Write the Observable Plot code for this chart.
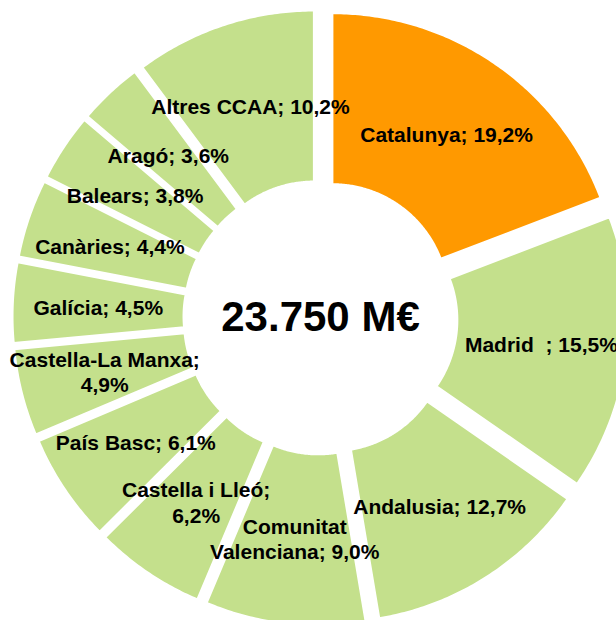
<!DOCTYPE html>
<html><head><meta charset="utf-8">
<script src="https://cdn.jsdelivr.net/npm/d3@7"></script>
<script src="https://cdn.jsdelivr.net/npm/@observablehq/plot@0.6"></script>
<style>body{margin:0;background:#fff;overflow:hidden}</style>
</head><body><div id="chart"></div>
<script>
const regions = ["Catalunya","Madrid","Andalusia","Comunitat Valenciana","Castella i Lleó","País Basc","Castella-La Manxa","Galícia","Canàries","Balears","Aragó","Altres CCAA"];
const shares = [19.2,15.5,12.7,9.0,6.2,6.1,4.9,4.5,4.4,3.8,3.6,10.2];
const labels = ["Catalunya; 19,2%","Madrid\u00a0\u00a0; 15,5%","Andalusia; 12,7%","Comunitat\nValenciana; 9,0%","Castella i Lleó;\n6,2%","País Basc; 6,1%","Castella-La Manxa;\n4,9%","Galícia; 4,5%","Canàries; 4,4%","Balears; 3,8%","Aragó; 3,6%","Altres CCAA; 10,2%"];
const totalLabel = "23.750 M€";
const highlight = "Catalunya";
const highlightColor = "#FF9900", otherColor = "#C4E08C";

const R = 287, r0 = 116, explode = 21;
const arcs = d3.pie().sort(null).value((d, i) => shares[i])(regions);
const rings = [];
const labelData = [];
arcs.forEach((a, i) => {
  const mid = (a.startAngle + a.endAngle) / 2;
  const ox = explode * Math.sin(mid), oy = explode * Math.cos(mid);
  const n = Math.max(8, Math.ceil((a.endAngle - a.startAngle) / 0.01));
  const pts = [];
  for (let k = 0; k <= n; k++) {
    const t = a.startAngle + (a.endAngle - a.startAngle) * k / n;
    pts.push([R * Math.sin(t) + ox, R * Math.cos(t) + oy]);
  }
  for (let k = n; k >= 0; k--) {
    const t = a.startAngle + (a.endAngle - a.startAngle) * k / n;
    pts.push([r0 * Math.sin(t) + ox, r0 * Math.cos(t) + oy]);
  }
  pts.push(pts[0]);
  pts.forEach(p => rings.push({region: regions[i], x: p[0], y: p[1]}));
  const lr = (R + r0) / 2 + explode;
  labelData.push({text: labels[i], x: lr * Math.sin(mid), y: lr * Math.cos(mid)});
});

const chart = Plot.plot({
  width: 616,
  height: 620,
  margin: 0,
  x: {domain: [-320, 296], axis: null},
  y: {domain: [-303, 317], axis: null},
  color: {domain: regions, range: regions.map(r => r === highlight ? highlightColor : otherColor)},
  marks: [
    Plot.line(rings, {x: "x", y: "y", z: "region", fill: "region", stroke: "white", strokeWidth: 2, curve: "linear"}),
    Plot.text(labelData, {x: "x", y: "y", text: "text", fontSize: 21, fontWeight: "bold", fontFamily: "Liberation Sans, Arial, sans-serif", fill: "black", lineHeight: 1.2}),
    Plot.text([totalLabel], {x: 0, y: 0, text: d => d, fontSize: 42, fontWeight: "bold", fontFamily: "Liberation Sans, Arial, sans-serif", fill: "black"})
  ]
});
document.getElementById("chart").appendChild(chart);
</script>
</body></html>
